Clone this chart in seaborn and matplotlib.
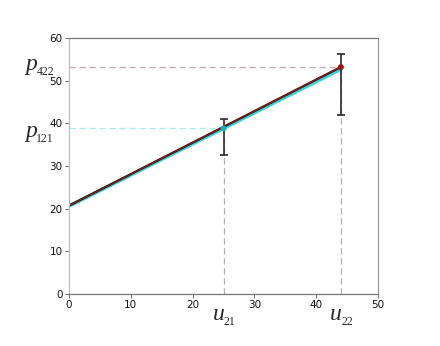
import numpy as np
import pandas as pd
import matplotlib
matplotlib.use("Agg")
import matplotlib.pyplot as plt
import seaborn as sns

# Fitted lines (x endpoints and y endpoints)
line_x = [0, 44]
cyan_y = [20.6, 52.7]
black_y = [20.7, 53.2]
red_y = [20.7, 53.2]

# Observed points with error bars
u_vals = [25, 44]
p_vals = [38.8, 53.2]
err_low = [32.6, 42.0]
err_high = [41.0, 56.3]
u_subs = ["21", "22"]
p_subs = ["121", "422"]

sns.set_style("ticks")

fig = plt.figure(figsize=(4.4, 3.46), dpi=100)
ax = fig.add_axes([69 / 440, 52 / 346, 309 / 440, 256 / 346])

df = pd.DataFrame({"x": line_x, "cyan": cyan_y, "black": black_y, "red": red_y})
sns.lineplot(data=df, x="x", y="cyan", color="#33d6d6", lw=2.6, ax=ax)
sns.lineplot(data=df, x="x", y="black", color="#111111", lw=1.6, ax=ax)
sns.lineplot(data=df, x="x", y="red", color="#b01010", lw=0.8, ax=ax)

# guide lines
ax.plot([0, u_vals[0]], [p_vals[0]] * 2, ls=(0, (5, 3)), color="#a0f0f0", lw=0.9, zorder=1)
ax.plot([0, u_vals[1]], [p_vals[1]] * 2, ls=(0, (5, 3)), color="#c8a8a8", lw=0.9, zorder=1)
for u, p in zip(u_vals, p_vals):
    ax.plot([u, u], [0, p], ls=(0, (5, 3)), color="#b0b0b0", lw=0.9, zorder=1)

# error bars
for u, p, lo, hi in zip(u_vals, p_vals, err_low, err_high):
    ax.errorbar([u], [p], yerr=[[p - lo], [hi - p]], fmt="none", ecolor="#2a2a2a",
                elinewidth=1.2, capsize=3, capthick=1.2, zorder=4)

pts = pd.DataFrame({"u": u_vals, "p": p_vals, "k": ["a", "b"]})
sns.scatterplot(data=pts, x="u", y="p", hue="k", palette=["#11b5b5", "#a01010"],
                s=18, edgecolor="none", legend=False, zorder=5, ax=ax)

ax.set_xlim(0, 50)
ax.set_ylim(0, 60)
ax.set_xticks(range(0, 51, 10))
ax.set_yticks(range(0, 61, 10))
ax.set_xlabel("")
ax.set_ylabel("")
ax.tick_params(labelsize=7.5, length=3, width=0.6, colors="#555555", labelcolor="#111111", pad=1.5)
ax.spines["left"].set_color("#bbbbbb")
ax.spines["bottom"].set_color("#777777")
ax.spines["top"].set_color("#777777")
ax.spines["right"].set_color("#999999")
for s in ax.spines.values():
    s.set_linewidth(0.9)

serif = ["Liberation Serif", "DejaVu Serif"]
# u labels under the x axis
for u, sub in zip(u_vals, u_subs):
    ax.annotate("u", xy=(u, 0), xytext=(-8, -19), textcoords="offset points",
                ha="left", va="baseline", fontsize=17, style="italic", family=serif)
    ax.annotate(sub, xy=(u, 0), xytext=(0.2, -22.5), textcoords="offset points",
                ha="left", va="baseline", fontsize=8.5, family=serif)
# p labels left of the y axis
p_offsets = [-6.5, -2.5]
for p, sub, dy in zip(p_vals, p_subs, p_offsets):
    ax.annotate("p", xy=(0, p), xytext=(-31.5, dy), textcoords="offset points",
                ha="left", va="baseline", fontsize=17, style="italic", family=serif)
    ax.annotate(sub, xy=(0, p), xytext=(-23.5, dy - 3.5), textcoords="offset points",
                ha="left", va="baseline", fontsize=8.5, family=serif)

fig.savefig("out.png", dpi=100)
